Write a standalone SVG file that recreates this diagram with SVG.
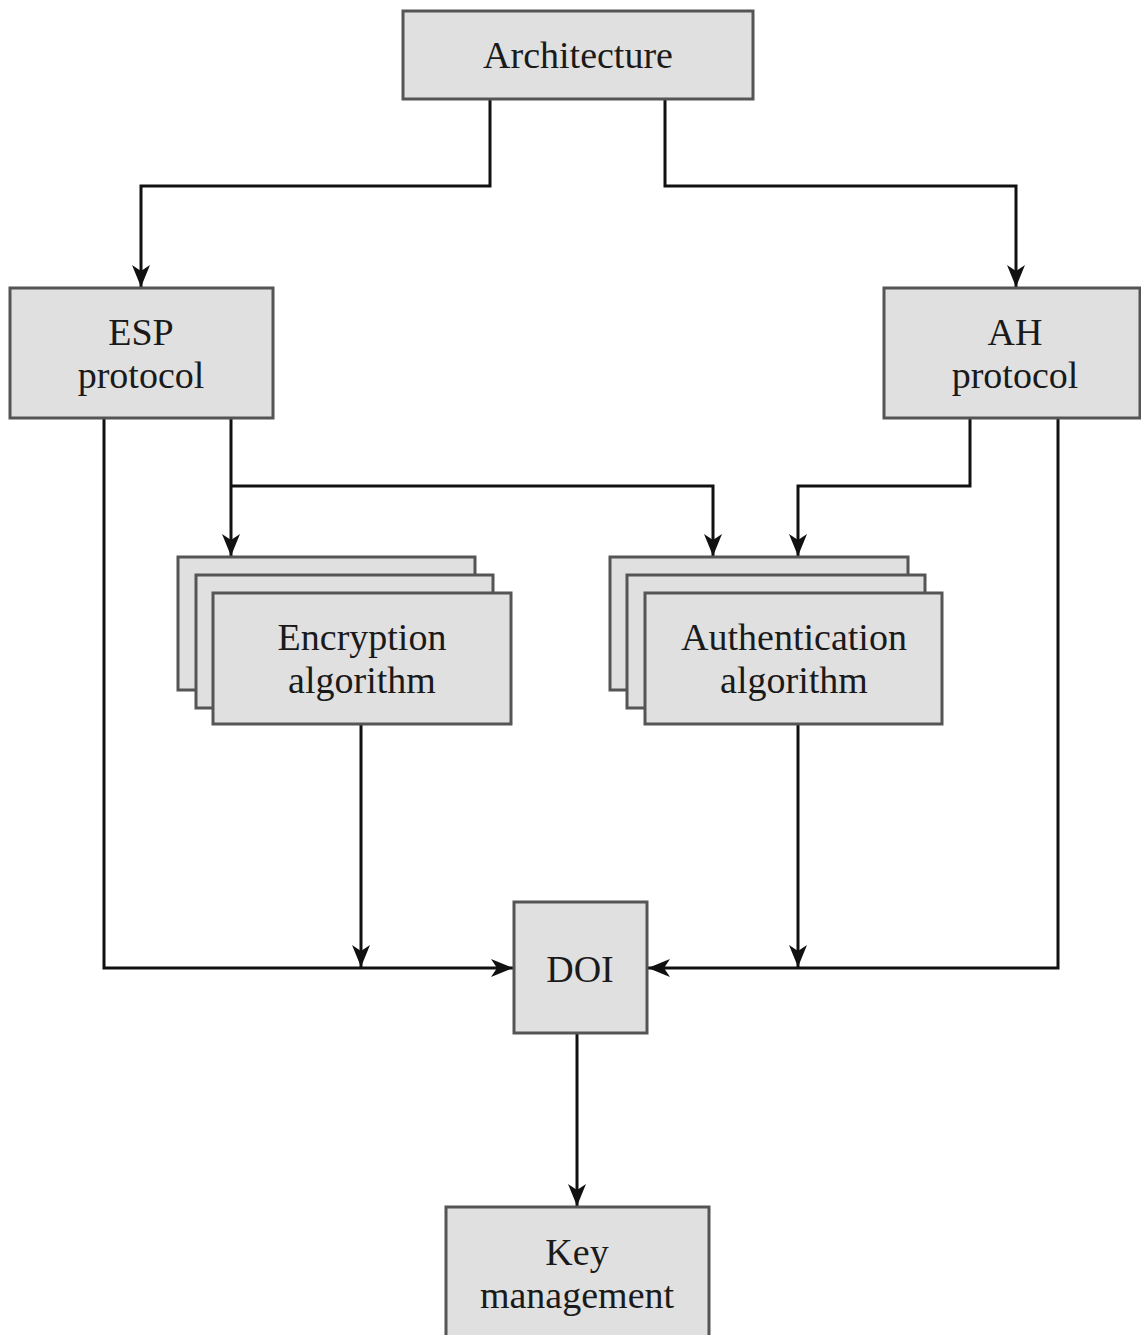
<svg xmlns="http://www.w3.org/2000/svg" width="1141" height="1335" viewBox="0 0 1141 1335">
<style>
.box{fill:#e0e0e0;stroke:#555;stroke-width:3}
.t{font-family:"Liberation Serif","Times New Roman",serif;font-size:38px;fill:#1a1a1a;text-anchor:middle}
.c{fill:none;stroke:#111;stroke-width:3}
</style>
<defs>
<marker id="ah" viewBox="0 0 22 18" refX="22" refY="9" markerWidth="22" markerHeight="18" markerUnits="userSpaceOnUse" orient="auto">
<path d="M0,0 L22,9 L0,18 L6,9 Z" fill="#111"/>
</marker>
</defs>
<rect width="1141" height="1335" fill="#fff"/>
<g id="connectors">
<path class="c" d="M490,99 V186 H141 V287" marker-end="url(#ah)"/>
<path class="c" d="M665,99 V186 H1016 V287" marker-end="url(#ah)"/>
<path class="c" d="M231,418 V556" marker-end="url(#ah)"/>
<path class="c" d="M231,486 H713 V556" marker-end="url(#ah)"/>
<path class="c" d="M970,418 V486 H798 V556" marker-end="url(#ah)"/>
<path class="c" d="M104,418 V968 H513" marker-end="url(#ah)"/>
<path class="c" d="M1058,418 V968 H648" marker-end="url(#ah)"/>
<path class="c" d="M361,724 V967" marker-end="url(#ah)"/>
<path class="c" d="M798,724 V967" marker-end="url(#ah)"/>
<path class="c" d="M577,1033 V1206" marker-end="url(#ah)"/>
</g>
<g id="architecture">
<rect class="box" x="403" y="11" width="350" height="88"/>
<text class="t" x="578" y="68">Architecture</text>
</g>
<g id="esp">
<rect class="box" x="10" y="288" width="263" height="130"/>
<text class="t" x="141" y="345">ESP</text>
<text class="t" x="141" y="388">protocol</text>
</g>
<g id="ah-protocol">
<rect class="box" x="884" y="288" width="256" height="130"/>
<text class="t" x="1015" y="345">AH</text>
<text class="t" x="1015" y="388">protocol</text>
</g>
<g id="encryption">
<rect class="box" x="178" y="557" width="297" height="133"/>
<rect class="box" x="196" y="575" width="297" height="133"/>
<rect class="box" x="213" y="593" width="298" height="131"/>
<text class="t" x="362" y="650">Encryption</text>
<text class="t" x="362" y="693">algorithm</text>
</g>
<g id="authentication">
<rect class="box" x="610" y="557" width="298" height="133"/>
<rect class="box" x="627" y="575" width="298" height="133"/>
<rect class="box" x="645" y="593" width="297" height="131"/>
<text class="t" x="794" y="650">Authentication</text>
<text class="t" x="794" y="693">algorithm</text>
</g>
<g id="doi">
<rect class="box" x="514" y="902" width="133" height="131"/>
<text class="t" x="580" y="982">DOI</text>
</g>
<g id="key-management">
<rect class="box" x="446" y="1207" width="263" height="140"/>
<text class="t" x="577" y="1265">Key</text>
<text class="t" x="577" y="1308">management</text>
</g>
</svg>
